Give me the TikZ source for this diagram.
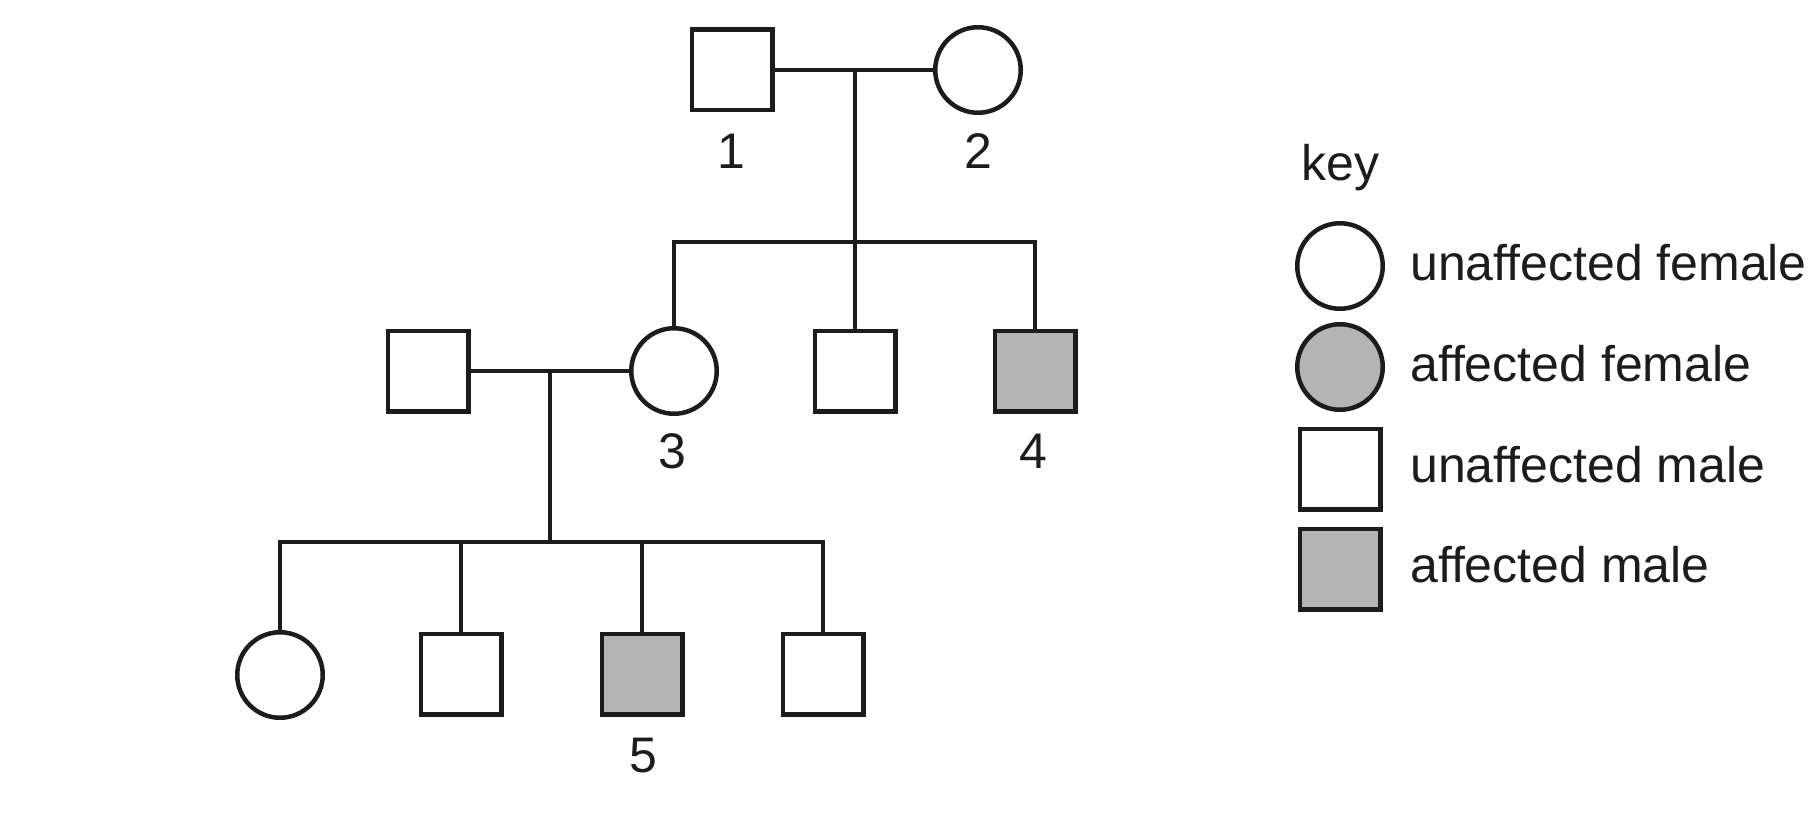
\documentclass[tikz,border=0pt]{standalone}
\usepackage{fontspec}
\setmainfont{Liberation Sans}
\definecolor{affgray}{RGB}{180,180,180}
\definecolor{ink}{RGB}{28,28,28}
\begin{document}
\begin{tikzpicture}[x=1pt,y=-1pt,
  line width=4.5pt, draw=ink,
  male/.style={draw=ink, rectangle, minimum size=80.5pt, inner sep=0pt, fill=white},
  female/.style={draw=ink, circle, minimum size=85.5pt, inner sep=0pt, fill=white},
  aff/.style={fill=affgray},
  lbl/.style={font=\fontsize{50}{60}\selectfont, text=ink, anchor=base, inner sep=0pt},
  ktext/.style={font=\fontsize{50}{60}\selectfont, text=ink, anchor=base west, inner sep=0pt}]
\useasboundingbox (0,0) rectangle (1812,824);

% generation I
\node[male] (p1) at (732,70) {};
\node[female] (p2) at (978,70) {};
\coordinate (m1) at (855,70);
\coordinate (s1) at (855,242);
\draw (p1) -- (p2);
\draw (m1) -- (s1);

% generation II
\node[female] (c1) at (674,371) {};
\node[male] (c2) at (855,371) {};
\node[male,aff] (c3) at (1035,371) {};
\node[male] (sp) at (428,371) {};
\draw (c1.north) -- (c1.north |- s1) -- (c3.north |- s1) -- (c3.north);
\draw (s1) -- (c2.north);
\draw (sp) -- (c1);
\coordinate (m2) at (550,371);
\coordinate (s2) at (550,542);
\draw (m2) -- (s2);

% generation III
\node[female] (g1) at (280,675) {};
\node[male] (g2) at (461,674) {};
\node[male,aff] (g3) at (642,674) {};
\node[male] (g4) at (823,674) {};
\draw (g1.north) -- (g1.north |- s2) -- (g4.north |- s2) -- (g4.north);
\draw (g2.north) -- (g2.north |- s2);
\draw (g3.north) -- (g3.north |- s2);

% labels
\node[lbl] (l1) at (731,168) {1};
\node[lbl] (l2) at (978,168) {2};
\node[lbl] (l3) at (672,468) {3};
\node[lbl] (l4) at (1033,468) {4};
\node[lbl] (l5) at (643,772) {5};

% key
\node[ktext] (key) at (1299,180) {key};
\node[female] (k1) at (1340,266) {};
\node[female,aff] (k2) at (1340,367) {};
\node[male] (k3) at (1340,469) {};
\node[male,aff] (k4) at (1340,569) {};
\node[ktext] (t1) at (1408,280) {unaffected female};
\node[ktext] (t2) at (1408,381) {affected female};
\node[ktext] (t3) at (1408,482) {unaffected male};
\node[ktext] (t4) at (1408,582) {affected male};
\end{tikzpicture}
\end{document}
